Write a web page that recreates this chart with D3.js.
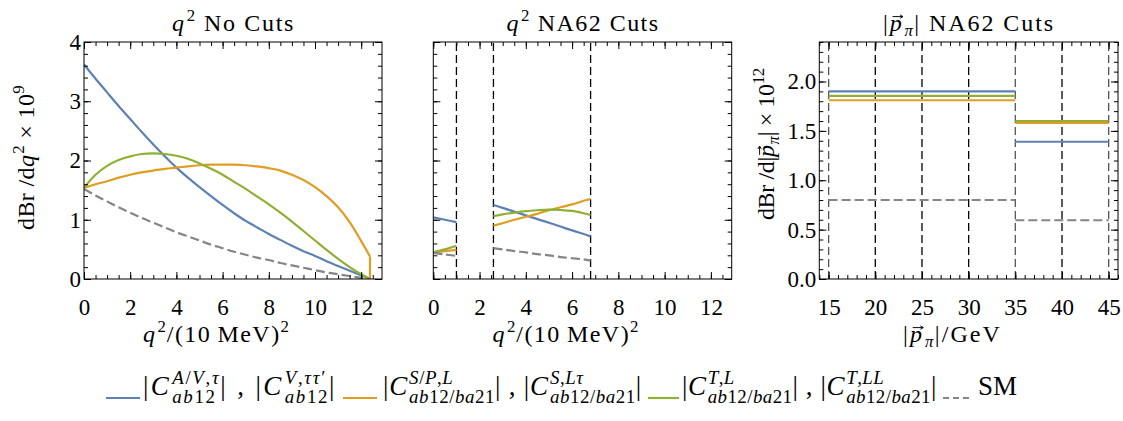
<!DOCTYPE html>
<html>
<head>
<meta charset="utf-8">
<script src="https://cdn.jsdelivr.net/npm/d3@7"></script>
<style>
  body { margin: 0; background: #fff; }
  svg { display: block; }
  text { white-space: pre; }
</style>
</head>
<body>
<svg id="chart" width="1123" height="421"></svg>
<script>
// ---- data ----
const qGrid = [0, 0.5, 1, 1.5, 2, 2.5, 3, 3.5, 4, 4.5, 5, 5.5, 6, 6.5, 7, 7.5, 8, 8.5, 9, 9.5, 10, 10.5, 11, 11.5, 12, 12.38];
const noCutBlue   = [3.62, 3.38, 3.15, 2.92, 2.70, 2.48, 2.27, 2.07, 1.88, 1.71, 1.55, 1.40, 1.25, 1.11, 0.98, 0.87, 0.76, 0.66, 0.56, 0.47, 0.39, 0.30, 0.22, 0.14, 0.06, 0];
const noCutOrange = [1.54, 1.60, 1.65, 1.71, 1.76, 1.80, 1.83, 1.86, 1.88, 1.90, 1.92, 1.93, 1.93, 1.93, 1.92, 1.90, 1.87, 1.83, 1.76, 1.67, 1.55, 1.40, 1.21, 0.96, 0.64, 0.38];
const noCutGreen  = [1.54, 1.76, 1.91, 2.01, 2.07, 2.11, 2.12, 2.11, 2.08, 2.03, 1.95, 1.86, 1.76, 1.64, 1.52, 1.39, 1.26, 1.12, 0.97, 0.81, 0.65, 0.49, 0.34, 0.20, 0.08, 0];
const noCutSM     = [1.52, 1.41, 1.31, 1.21, 1.12, 1.03, 0.95, 0.87, 0.79, 0.72, 0.65, 0.58, 0.52, 0.46, 0.41, 0.36, 0.32, 0.27, 0.23, 0.19, 0.15, 0.11, 0.08, 0.05, 0.02, 0];
const qMax = 12.38;

const qCutA = [0, 0.5, 1.0];
const cutABlue   = [1.04, 1.00, 0.96];
const cutAOrange = [0.45, 0.47, 0.49];
const cutAGreen  = [0.45, 0.50, 0.56];
const cutASM     = [0.44, 0.415, 0.39];

const qCutB = [2.6, 3, 3.5, 4, 4.5, 5, 5.5, 6, 6.5, 6.8];
const cutBBlue   = [1.25, 1.20, 1.137, 1.074, 1.01, 0.95, 0.885, 0.82, 0.76, 0.72];
const cutBOrange = [0.90, 0.94, 1.00, 1.05, 1.10, 1.16, 1.21, 1.26, 1.32, 1.35];
const cutBGreen  = [1.06, 1.09, 1.12, 1.145, 1.16, 1.17, 1.165, 1.15, 1.11, 1.08];
const cutBSM     = [0.52, 0.50, 0.47, 0.45, 0.42, 0.40, 0.37, 0.35, 0.33, 0.31];
const qCutEdges = [1.0, 2.6, 6.8];

const pBins = [[15, 35], [35, 45]];
const pBlue   = [1.90, 1.39];
const pOrange = [1.81, 1.58];
const pGreen  = [1.855, 1.60];
const pSM     = [0.80, 0.595];
const pGridBlack = [20, 25, 30, 40];
const pGridGray = [15, 35, 45];

const qTicks = [0, 2, 4, 6, 8, 10, 12];
const yTicksQ = [0, 1, 2, 3, 4];
const pTicks = [15, 20, 25, 30, 35, 40, 45];
const yTicksP = [0, 0.5, 1.0, 1.5, 2.0];

const colors = { blue: "#5E81B5", orange: "#E19C24", green: "#8FB032", sm: "#858585" };
const FONT = '"Liberation Serif", "DejaVu Serif", serif';

// ---- layout ----
const svg = d3.select("#chart").attr("font-family", FONT);
const plotTop = 42, plotBottom = 279;
const panels = [
  { x0: 84, x1: 382 },
  { x0: 433.3, x1: 731.7 },
  { x0: 819.3, x1: 1118 }
];

const xq1 = d3.scaleLinear().domain([0, 12.9]).range([panels[0].x0, panels[0].x1]);
const xq2 = d3.scaleLinear().domain([0, 12.9]).range([panels[1].x0, panels[1].x1]);
const xp = d3.scaleLinear().domain([14, 46]).range([panels[2].x0, panels[2].x1]);
const yq = d3.scaleLinear().domain([0, 4]).range([plotBottom, plotTop]);
const yp = d3.scaleLinear().domain([0, 2.4]).range([plotBottom, plotTop]);

// small math-ish text layout: letters in math segments go italic
function mathLabel(parent, segs, fs, ls) {
  const g = parent.append("g");
  let cx = 0;
  const put = (str, math, size, dy) => {
    const t = g.append("text").attr("x", cx).attr("y", dy)
      .style("font-size", size + "px").style("font-family", FONT)
      .style("letter-spacing", (ls * size / fs) + "px").attr("fill", "#000");
    const re = /([A-Za-z\u0370-\u03ff]+)|([^A-Za-z\u0370-\u03ff]+)/g;
    let m;
    while ((m = re.exec(str))) {
      t.append("tspan").text(m[0]).style("font-style", math && m[1] ? "italic" : "normal");
    }
    return t.node().getComputedTextLength();
  };
  segs.forEach(s => {
    const start = cx;
    const w = put(s.t, s.m, fs, 0);
    if (s.vec) {
      const ax0 = start + w * 0.2, ax1 = start + w * 0.95, ay = -fs * 0.6;
      g.append("path")
        .attr("d", `M${ax0},${ay}H${ax1}M${ax1 - fs * 0.12},${ay - fs * 0.07}L${ax1},${ay}L${ax1 - fs * 0.12},${ay + fs * 0.07}`)
        .attr("fill", "none").attr("stroke", "#000").attr("stroke-width", fs * 0.04);
    }
    cx += w + (s.m && (s.sup || s.sub) ? fs * 0.04 : 0);
    let w2 = 0;
    if (s.sup) w2 = Math.max(w2, put(s.sup, true, fs * 0.7, -fs * 0.42));
    if (s.sub) w2 = Math.max(w2, put(s.sub, true, fs * 0.7, s.sup ? fs * 0.3 : fs * 0.22));
    cx += w2;
  });
  return { g, width: cx };
}

// spread the letters so the label takes the reference's (wider TeX) width
function fitLabel(segs, fs, tw) {
  const n = segs.reduce((a, s) => a + s.t.length + 0.7 * Math.max((s.sup || "").length, (s.sub || "").length), 0);
  let ls = 0, m = null;
  for (let k = 0; k < 3; k++) {
    if (m) m.g.remove();
    m = mathLabel(svg, segs, fs, ls);
    ls += (tw - m.width) / n;
  }
  return m;
}

function frame(xs, ys, xMajor, xMinor, yMajor, yMinor, xFmt, yFmt, showY) {
  const [x0, x1] = xs.range();
  const [y1, y0] = ys.range();
  const g = svg.append("g");
  const add = (axis, tx, ty) => {
    const a = g.append("g").attr("transform", `translate(${tx},${ty})`).call(axis);
    a.attr("font-family", FONT);
    a.select(".domain").remove();
    a.selectAll("line").attr("stroke", "#000").attr("stroke-width", 1);
    a.selectAll("text").style("font-family", FONT).style("font-size", "23px").attr("fill", "#000");
    return a;
  };
  add(d3.axisBottom(xs).tickValues(xMinor).tickSize(-4).tickFormat(""), 0, y1);
  add(d3.axisTop(xs).tickValues(xMinor).tickSize(-4).tickFormat(""), 0, y0);
  add(d3.axisLeft(ys).tickValues(yMinor).tickSize(-4).tickFormat(""), x0, 0);
  add(d3.axisRight(ys).tickValues(yMinor).tickSize(-4).tickFormat(""), x1, 0);
  add(d3.axisBottom(xs).tickValues(xMajor).tickSize(-7).tickPadding(20).tickFormat(xFmt), 0, y1);
  add(d3.axisTop(xs).tickValues(xMajor).tickSize(-7).tickFormat(""), 0, y0);
  add(d3.axisLeft(ys).tickValues(yMajor).tickSize(-7).tickPadding(3).tickFormat(showY ? yFmt : ""), x0, 0);
  add(d3.axisRight(ys).tickValues(yMajor).tickSize(-7).tickFormat(""), x1, 0);
  g.append("rect").attr("x", x0).attr("y", y0).attr("width", x1 - x0).attr("height", y1 - y0)
    .attr("fill", "none").attr("stroke", "#000").attr("stroke-width", 1);
}

function clipFor(id, xs, ys) {
  const [x0, x1] = xs.range();
  const [y1, y0] = ys.range();
  svg.append("clipPath").attr("id", id).append("rect")
    .attr("x", x0).attr("y", y0).attr("width", x1 - x0).attr("height", y1 - y0);
  return svg.append("g").attr("clip-path", `url(#${id})`);
}

function drawLine(g, xs, ys, qs, vs, color, dashed) {
  const pts = qs.map((q, i) => [q, vs[i]]);
  const line = d3.line().x(d => xs(d[0])).y(d => ys(d[1])).curve(d3.curveCatmullRom.alpha(0.5));
  g.append("path").attr("d", line(pts)).attr("fill", "none")
    .attr("stroke", color).attr("stroke-width", 2.2)
    .attr("stroke-dasharray", dashed ? "9,4" : null);
}

function vDashes(g, xs, ys, vals, color) {
  g.selectAll(null).data(vals).enter().append("line")
    .attr("x1", d => xs(d)).attr("x2", d => xs(d))
    .attr("y1", ys.range()[0]).attr("y2", ys.range()[1])
    .attr("stroke", color).attr("stroke-width", 1.3).attr("stroke-dasharray", "8,4");
}

const fmtInt = d3.format("d");
const fmt1 = d3.format(".1f");

// ---- panel 1 ----
const g1 = clipFor("c1", xq1, yq);
drawLine(g1, xq1, yq, qGrid, noCutBlue, colors.blue);
drawLine(g1, xq1, yq, qGrid, noCutOrange, colors.orange);
// orange curve drops straight to zero at the kinematic end point
g1.append("line")
  .attr("x1", xq1(qMax)).attr("x2", xq1(qMax))
  .attr("y1", yq(noCutOrange[noCutOrange.length - 1])).attr("y2", yq(0))
  .attr("stroke", colors.orange).attr("stroke-width", 2.2);
drawLine(g1, xq1, yq, qGrid, noCutGreen, colors.green);
drawLine(g1, xq1, yq, qGrid, noCutSM, colors.sm, true);
frame(xq1, yq, qTicks, d3.range(0, 12.91, 0.5), yTicksQ, d3.range(0, 4.01, 0.2), fmtInt, fmtInt, true);

// ---- panel 2 ----
const g2 = clipFor("c2", xq2, yq);
vDashes(g2, xq2, yq, qCutEdges, "#000");
[[qCutA, cutABlue, cutAOrange, cutAGreen, cutASM], [qCutB, cutBBlue, cutBOrange, cutBGreen, cutBSM]].forEach(([qs, b, o, gr, sm]) => {
  drawLine(g2, xq2, yq, qs, b, colors.blue);
  drawLine(g2, xq2, yq, qs, o, colors.orange);
  drawLine(g2, xq2, yq, qs, gr, colors.green);
  drawLine(g2, xq2, yq, qs, sm, colors.sm, true);
});
frame(xq2, yq, qTicks, d3.range(0, 12.91, 0.5), yTicksQ, d3.range(0, 4.01, 0.2), fmtInt, fmtInt, false);

// ---- panel 3 ----
const g3 = clipFor("c3", xp, yp);
vDashes(g3, xp, yp, pGridBlack, "#000");
vDashes(g3, xp, yp, pGridGray, "#555");
[[pBlue, colors.blue, false], [pOrange, colors.orange, false], [pGreen, colors.green, false], [pSM, colors.sm, true]].forEach(([vals, c, dashed]) => {
  g3.selectAll(null).data(pBins).enter().append("line")
    .attr("x1", d => xp(d[0])).attr("x2", d => xp(d[1]))
    .attr("y1", (d, i) => yp(vals[i])).attr("y2", (d, i) => yp(vals[i]))
    .attr("stroke", c).attr("stroke-width", 2.2)
    .attr("stroke-dasharray", dashed ? "9,4" : null);
});
frame(xp, yp, pTicks, d3.range(14, 46.01, 1), yTicksP, d3.range(0, 2.41, 0.1), fmtInt, fmt1, true);

// ---- titles and axis labels ----
function placeH(segs, fs, cx, y, tw) {
  const m = fitLabel(segs, fs, tw);
  m.g.attr("transform", `translate(${cx - m.width / 2},${y})`);
}
function placeV(segs, fs, x, cy, tw) {
  const m = fitLabel(segs, fs, tw);
  m.g.attr("transform", `translate(${x},${cy}) rotate(-90) translate(${-m.width / 2},0)`);
}
const fsT = 24;
placeH([{ t: "q", m: 1, sup: "2" }, { t: " No Cuts" }], fsT, 233.5, 31, 123);
placeH([{ t: "q", m: 1, sup: "2" }, { t: " NA62 Cuts" }], fsT, 583, 31, 153);
placeH([{ t: "|" }, { t: "p", m: 1, vec: 1, sub: "π" }, { t: "| NA62 Cuts" }], fsT, 969, 31, 172);

placeH([{ t: "q", m: 1, sup: "2" }, { t: "/(10\u2009MeV)", sup: "2" }], fsT, 216.5, 342, 147);
placeH([{ t: "q", m: 1, sup: "2" }, { t: "/(10\u2009MeV)", sup: "2" }], fsT, 566, 342, 147);
placeH([{ t: "|" }, { t: "p", m: 1, vec: 1, sub: "π" }, { t: "|/GeV" }], fsT, 952.5, 342, 99);

placeV([{ t: "dBr /d" }, { t: "q", m: 1, sup: "2" }, { t: " × 10", sup: "9" }], fsT, 34, 157.5, 145);
placeV([{ t: "dBr /d|" }, { t: "p", m: 1, vec: 1, sub: "π" }, { t: "| × 10", sup: "12" }], fsT, 774, 144, 152);

// ---- legend ----
const legendItems = [
  { color: colors.blue, dashed: false, lx: [106, 140], tx: 143, tw: 194,
    segs: [{ t: "|" }, { t: "C", m: 1, sup: "A/V,τ", sub: "ab12" }, { t: "| , |" }, { t: "C", m: 1, sup: "V,ττ′", sub: "ab12" }, { t: "|" }] },
  { color: colors.orange, dashed: false, lx: [343, 377], tx: 383, tw: 259,
    segs: [{ t: "|" }, { t: "C", m: 1, sup: "S/P,L", sub: "ab12/ba21" }, { t: "| , |" }, { t: "C", m: 1, sup: "S,Lτ", sub: "ab12/ba21" }, { t: "|" }] },
  { color: colors.green, dashed: false, lx: [648, 679], tx: 682, tw: 255,
    segs: [{ t: "|" }, { t: "C", m: 1, sup: "T,L", sub: "ab12/ba21" }, { t: "| , |" }, { t: "C", m: 1, sup: "T,LL", sub: "ab12/ba21" }, { t: "|" }] },
  { color: colors.sm, dashed: true, lx: [943, 972], tx: 978, tw: 39, segs: [{ t: "SM" }] }
];
const legY = 397;
legendItems.forEach(it => {
  svg.append("line").attr("x1", it.lx[0]).attr("x2", it.lx[1]).attr("y1", legY + 1).attr("y2", legY + 1)
    .attr("stroke", it.color).attr("stroke-width", 2.2)
    .attr("stroke-dasharray", it.dashed ? "6,4" : null);
  const m = fitLabel(it.segs, 27, it.tw);
  m.g.attr("transform", `translate(${it.tx},${legY - 2})`);
});
</script>
</body>
</html>
